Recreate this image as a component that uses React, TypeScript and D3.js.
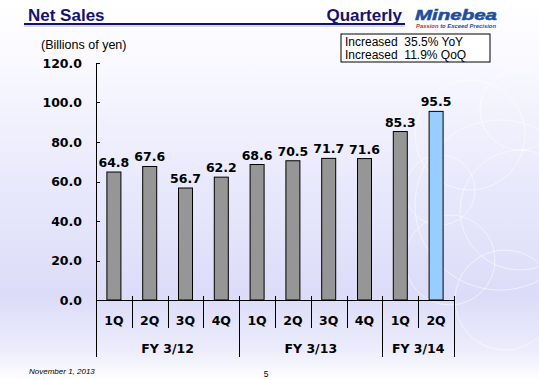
import React from "react";
import * as d3 from "d3";

const quarters = ["1Q", "2Q", "3Q", "4Q", "1Q", "2Q", "3Q", "4Q", "1Q", "2Q"];
const values = [64.8, 67.6, 56.7, 62.2, 68.6, 70.5, 71.7, 71.6, 85.3, 95.5];
const fiscalYears = ["FY 3/12", "FY 3/13", "FY 3/14"];
const yearSpans = [4, 4, 2];
const yTicks = [0, 20, 40, 60, 80, 100, 120];

const W = 539;
const H = 380;
const FONT = "Verdana, 'DejaVu Sans', sans-serif";
const ARIAL = "Arial, 'Liberation Sans', sans-serif";
const NAVY = "#14146e";

export default function App() {
  const left = 96, right = 454, top = 63, bottom = 300;
  const x = d3.scaleBand<number>().domain(d3.range(values.length)).range([left, right]).paddingInner(0).paddingOuter(0);
  const y = d3.scaleLinear().domain([0, 120]).range([bottom, top]);
  const bw = 14;

  const yearBounds: number[] = [0];
  yearSpans.forEach((s) => yearBounds.push(yearBounds[yearBounds.length - 1] + s));
  const xEdge = (i: number) => (i >= values.length ? right : (x(i) as number));

  const circles = [
    { cx: 470, cy: 135, r: 55 },
    { cx: 520, cy: 210, r: 60 },
    { cx: 450, cy: 260, r: 45 },
    { cx: 505, cy: 300, r: 50 },
    { cx: 520, cy: 110, r: 40 },
    { cx: 440, cy: 190, r: 35 },
    { cx: 500, cy: 205, r: 85 },
  ];

  return (
    <div style={{ position: "absolute", left: 0, top: 0 }}>
      <svg width={W} height={H} style={{ display: "block" }}>
        <defs>
          <linearGradient id="bg" x1="0" y1="0" x2="0" y2="1">
            <stop offset="0%" stopColor="#ffffff" />
            <stop offset="12%" stopColor="#fbfbff" />
            <stop offset="50%" stopColor="#e8e8fc" />
            <stop offset="78%" stopColor="#dcdcf9" />
            <stop offset="92%" stopColor="#ececfc" />
            <stop offset="100%" stopColor="#ffffff" />
          </linearGradient>
        </defs>
        <rect x={0} y={0} width={W} height={H} fill="url(#bg)" />
        {circles.map((c, i) => (
          <circle key={i} cx={c.cx} cy={c.cy} r={c.r} fill="none" stroke="#ffffff" strokeOpacity={0.55} strokeWidth={1} />
        ))}

        {/* header */}
        <text x={28} y={21} fontFamily={ARIAL} fontWeight="bold" fontSize={17} fill={NAVY}>Net Sales</text>
        <text x={402} y={21} textAnchor="end" fontFamily={ARIAL} fontWeight="bold" fontSize={17} fill={NAVY}>Quarterly</text>
        <line x1={24} x2={405} y1={24} y2={24} stroke={NAVY} strokeWidth={2} />
        <line x1={24} x2={405} y1={26} y2={26} stroke="#8080c0" strokeWidth={0.6} />
        <text x={415} y={19.5} fontFamily={ARIAL} fontWeight="bold" fontStyle="italic" fontSize={14} fill="#1d4f9e" stroke="#1d4f9e" strokeWidth={0.5} textLength={82} lengthAdjust="spacingAndGlyphs">Minebea</text>
        <text x={416} y={28} fontFamily={ARIAL} fontWeight="bold" fontStyle="italic" fontSize={5.2} fill="#1d4f9e" textLength={80} lengthAdjust="spacingAndGlyphs">
          <tspan fill="#c8302a">Passion</tspan> to Exceed Precision
        </text>

        {/* info box */}
        <rect x={341} y={34} width={149} height={28} fill="#ffffff" stroke="#000" strokeWidth={1} />
        <text x={345} y={46} fontFamily={ARIAL} fontSize={12} fill="#000" style={{ whiteSpace: "pre" }}>Increased  35.5% YoY</text>
        <text x={345} y={59} fontFamily={ARIAL} fontSize={12} fill="#000" style={{ whiteSpace: "pre" }}>Increased  11.9% QoQ</text>

        <text x={41} y={49} fontFamily={ARIAL} fontSize={12.5} fill="#000">(Billions of yen)</text>

        {/* y axis */}
        <line x1={left + 0.5} x2={left + 0.5} y1={y(120)} y2={bottom} stroke="#000" strokeWidth={1} />
        {yTicks.map((t) => (
          <g key={t}>
            <line x1={left} x2={left + 4} y1={Math.round(y(t)) + 0.5} y2={Math.round(y(t)) + 0.5} stroke="#000" />
            <text x={82} y={y(t)} dy="0.36em" textAnchor="end" fontFamily={FONT} fontWeight="bold" fontSize={12.5} fill="#000">
              {t.toFixed(1)}
            </text>
          </g>
        ))}

        {/* bars */}
        {values.map((v, i) => {
          const cx = (x(i) as number) + x.bandwidth() / 2;
          return (
            <g key={i}>
              <rect x={cx - bw / 2} y={y(v)} width={bw} height={bottom - y(v)} fill={i === values.length - 1 ? "#99ccff" : "#969696"} stroke="#000" strokeWidth={1} />
              <text x={cx} y={y(v) - 5} textAnchor="middle" fontFamily={FONT} fontWeight="bold" fontSize={12.5} fill="#000">
                {v.toFixed(1)}
              </text>
            </g>
          );
        })}

        {/* x axis */}
        <line x1={left} x2={right} y1={bottom + 0.5} y2={bottom + 0.5} stroke="#000" strokeWidth={1} />
        {d3.range(values.length + 1).map((i) => {
          const isYear = yearBounds.includes(i);
          const xe = Math.round(xEdge(i)) + 0.5;
          return <line key={i} x1={xe} x2={xe} y1={bottom - 4} y2={isYear ? 357 : 328} stroke="#000" strokeWidth={1} />;
        })}
        {quarters.map((q, i) => (
          <text key={i} x={(x(i) as number) + x.bandwidth() / 2} y={325} textAnchor="middle" fontFamily={FONT} fontWeight="bold" fontSize={12.5} fill="#000">
            {q}
          </text>
        ))}
        {fiscalYears.map((fy, j) => {
          const x0 = xEdge(yearBounds[j]);
          const x1 = xEdge(yearBounds[j + 1]);
          return (
            <text key={fy} x={(x0 + x1) / 2} y={353} textAnchor="middle" fontFamily={FONT} fontWeight="bold" fontSize={12.5} fill="#000">
              {fy}
            </text>
          );
        })}

        {/* footer */}
        <text x={29} y={374} fontFamily={ARIAL} fontStyle="italic" fontSize={8} fill="#000">November 1, 2013</text>
        <text x={266} y={377} textAnchor="middle" fontFamily={ARIAL} fontSize={8.5} fill="#000">5</text>
      </svg>
    </div>
  );
}
